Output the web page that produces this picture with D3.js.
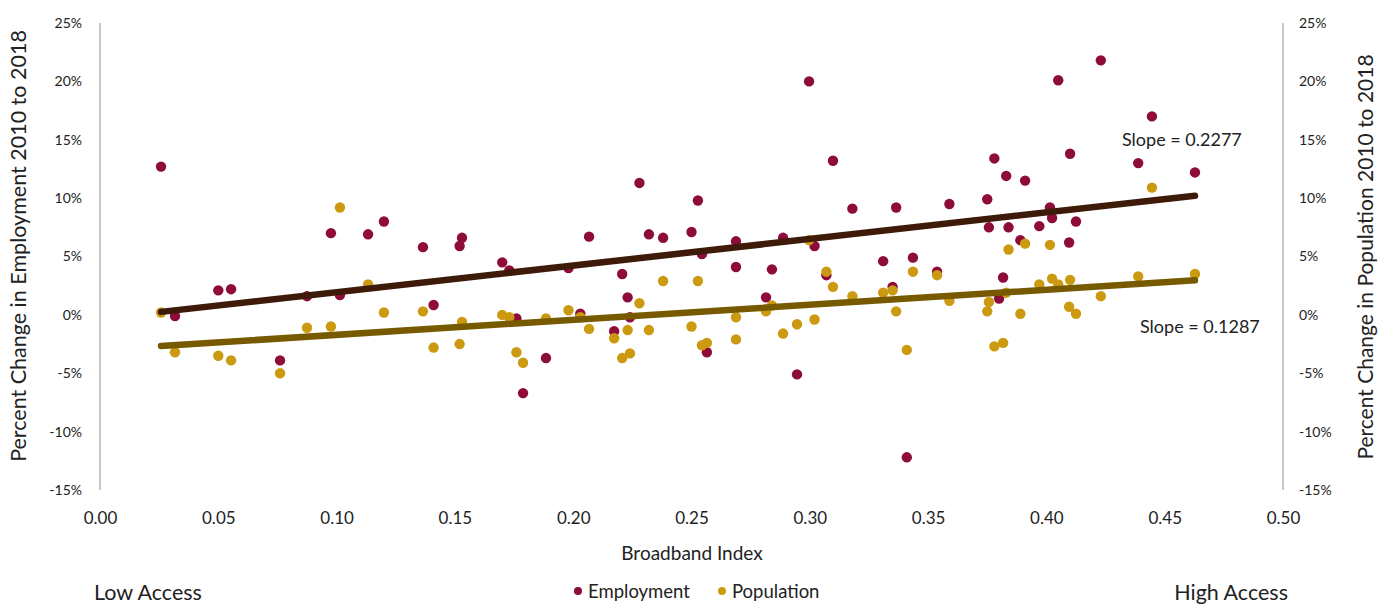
<!DOCTYPE html>
<html><head><meta charset="utf-8">
<script src="https://cdn.jsdelivr.net/npm/d3@7"></script>
<style>
html,body{margin:0;padding:0;background:#fff;}
svg text{font-family:Lato,"Noto Sans",sans-serif;}
</style></head>
<body><svg id="c" width="1388" height="604"></svg>
<script>
// Data
const empX = [0.0258,0.0317,0.050,0.0554,0.0761,0.0875,0.0976,0.1014,0.1133,0.120,0.1365,0.141,0.152,0.153,0.170,0.173,0.176,0.1788,0.1885,0.198,0.203,0.2067,0.2173,0.2207,0.223,0.224,0.228,0.232,0.238,0.250,0.2527,0.2544,0.2565,0.2688,0.2688,0.2815,0.284,0.2887,0.2946,0.2997,0.302,0.307,0.3098,0.318,0.331,0.335,0.3365,0.341,0.3436,0.3538,0.359,0.375,0.3757,0.378,0.380,0.3817,0.383,0.384,0.389,0.391,0.397,0.4015,0.4024,0.405,0.4096,0.410,0.4125,0.423,0.4388,0.4446,0.4628];
const empY = [12.7,-0.1,2.1,2.2,-3.9,1.6,7.0,1.7,6.9,8.0,5.8,0.85,5.9,6.6,4.5,3.8,-0.3,-6.7,-3.7,4.0,0.1,6.7,-1.4,3.5,1.5,-0.2,11.3,6.9,6.6,7.1,9.8,5.2,-3.2,6.3,4.1,1.5,3.9,6.6,-5.1,20.0,5.9,3.4,13.2,9.1,4.6,2.4,9.2,-12.2,4.9,3.7,9.5,9.9,7.5,13.4,1.4,3.2,11.9,7.5,6.4,11.5,7.6,9.2,8.3,20.1,6.2,13.8,8.0,21.8,13.0,17.0,12.2];
const popX = [0.0258,0.0317,0.050,0.0554,0.0761,0.0875,0.0976,0.1014,0.1133,0.120,0.1365,0.141,0.152,0.153,0.170,0.173,0.176,0.1788,0.1885,0.198,0.203,0.2067,0.2173,0.2207,0.223,0.224,0.228,0.232,0.238,0.250,0.2527,0.2544,0.2565,0.2688,0.2688,0.2815,0.284,0.2887,0.2946,0.2997,0.302,0.307,0.3098,0.318,0.331,0.335,0.3365,0.341,0.3436,0.3538,0.359,0.375,0.3757,0.378,0.3817,0.383,0.384,0.389,0.391,0.397,0.4015,0.4024,0.405,0.4096,0.410,0.4125,0.423,0.4388,0.4446,0.4628];
const popY = [0.2,-3.2,-3.5,-3.9,-5.0,-1.1,-1.0,9.2,2.6,0.2,0.3,-2.8,-2.5,-0.6,0.0,-0.2,-3.2,-4.1,-0.3,0.4,-0.2,-1.2,-2.0,-3.7,-1.3,-3.3,1.0,-1.3,2.9,-1.0,2.9,-2.6,-2.4,-0.2,-2.1,0.3,0.8,-1.6,-0.8,6.4,-0.4,3.7,2.4,1.6,1.9,2.1,0.3,-3.0,3.7,3.4,1.2,0.3,1.1,-2.7,-2.4,1.9,5.6,0.1,6.1,2.6,6.0,3.1,2.6,0.7,3.0,0.1,1.6,3.3,10.9,3.5];
const xTicks = [0,0.05,0.10,0.15,0.20,0.25,0.30,0.35,0.40,0.45,0.50];
const yTicks = [-15,-10,-5,0,5,10,15,20,25];
const empTrend = {slope:0.2277, intercept:-0.0033, label:"Slope = 0.2277"};
const popTrend = {slope:0.1287, intercept:-0.0300, label:"Slope = 0.1287"};
const trendRange = [0.0258, 0.4628];

const svg = d3.select("#c");
const x = d3.scaleLinear().domain([0,0.5]).range([100,1283]);
const y = d3.scaleLinear().domain([-15,25]).range([490,23]);

// axis lines
svg.append("line").attr("x1",100).attr("x2",100).attr("y1",y(25)).attr("y2",y(-15)).attr("stroke","#c8c8c8").attr("stroke-width",2);
svg.append("line").attr("x1",1283).attr("x2",1283).attr("y1",y(25)).attr("y2",y(-15)).attr("stroke","#c8c8c8").attr("stroke-width",2);

// Y ticks left & right
const yl = svg.append("g").attr("transform","translate(100,0)")
  .call(d3.axisLeft(y).tickValues(yTicks).tickSize(0).tickPadding(18).tickFormat(d=>d+"%"));
const yr = svg.append("g").attr("transform","translate(1283,0)")
  .call(d3.axisRight(y).tickValues(yTicks).tickSize(0).tickPadding(16).tickFormat(d=>d+"%"));
const xa = svg.append("g").attr("transform","translate(0,502)")
  .call(d3.axisBottom(x).tickValues(xTicks).tickSize(0).tickPadding(10).tickFormat(d3.format(".2f")));
[yl,yr,xa].forEach(g=>{g.select(".domain").remove(); g.selectAll("text").attr("font-family","Lato").attr("fill","#222");});
yl.selectAll("text").attr("font-size",14);
yr.selectAll("text").attr("font-size",14);
xa.selectAll("text").attr("font-size",17);

// points
svg.append("g").selectAll("circle").data(empX.map((d,i)=>[d,empY[i]])).join("circle")
  .attr("cx",d=>x(d[0])).attr("cy",d=>y(d[1])).attr("r",5.2).attr("fill","#8e0c3a");
svg.append("g").selectAll("circle").data(popX.map((d,i)=>[d,popY[i]])).join("circle")
  .attr("cx",d=>x(d[0])).attr("cy",d=>y(d[1])).attr("r",5.2).attr("fill","#cc9a10");

// trend lines
const line = d3.line().x(d=>x(d[0])).y(d=>y(d[1]));
function trend(t,color){
  const pts = trendRange.map(v=>[v,(t.intercept+t.slope*v)*100]);
  svg.append("path").attr("d",line(pts)).attr("fill","none").attr("stroke",color).attr("stroke-width",6.5).attr("stroke-linecap","round");
}
trend(popTrend,"#775a00");
trend(empTrend,"#3e1a08");

// slope labels
svg.append("text").attr("x",1122).attr("y",146).attr("font-size",18).attr("fill","#222").text(empTrend.label);
svg.append("text").attr("x",1140).attr("y",333).attr("font-size",18).attr("fill","#222").text(popTrend.label);

// axis titles
svg.append("text").attr("transform","translate(26,246) rotate(-90)").attr("text-anchor","middle").attr("font-size",21.5).attr("fill","#222").text("Percent Change in Employment 2010 to 2018");
svg.append("text").attr("transform","translate(1373,257) rotate(-90)").attr("text-anchor","middle").attr("font-size",21).attr("fill","#222").text("Percent Change in Population 2010 to 2018");
svg.append("text").attr("x",692).attr("y",560).attr("text-anchor","middle").attr("font-size",19).attr("fill","#222").text("Broadband Index");

// legend
svg.append("circle").attr("cx",578).attr("cy",591).attr("r",4).attr("fill","#8e0c3a");
svg.append("text").attr("x",588).attr("y",598).attr("font-size",18.5).attr("fill","#222").text("Employment");
svg.append("circle").attr("cx",722).attr("cy",591).attr("r",4).attr("fill","#cc9a10");
svg.append("text").attr("x",732).attr("y",598).attr("font-size",18.5).attr("fill","#222").text("Population");

svg.append("text").attr("x",94).attr("y",600).attr("font-size",21.5).attr("fill","#222").text("Low Access");
svg.append("text").attr("x",1288).attr("y",600).attr("text-anchor","end").attr("font-size",21.5).attr("fill","#222").text("High Access");
</script></body></html>
